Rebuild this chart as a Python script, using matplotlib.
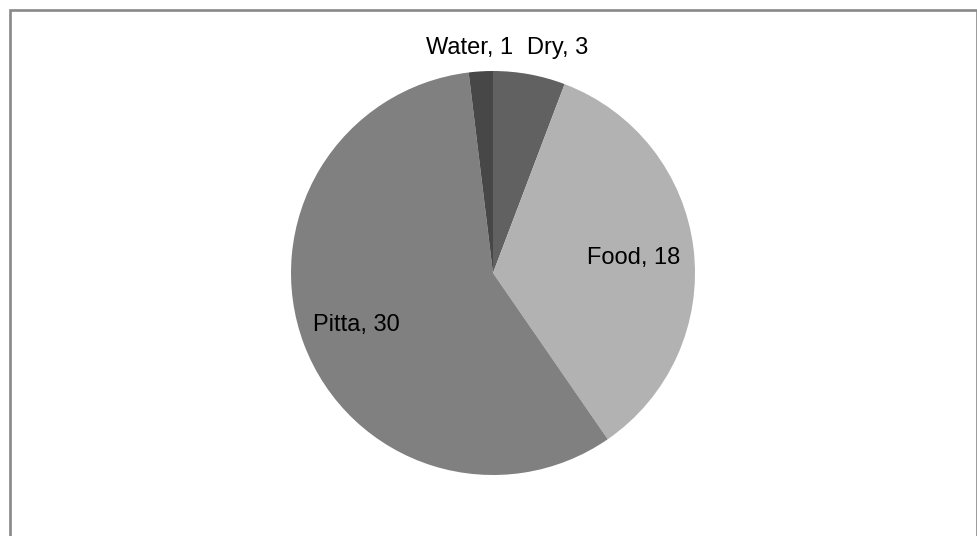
import numpy as np
import matplotlib
matplotlib.use("Agg")
import matplotlib.pyplot as plt
from matplotlib.patches import Rectangle

# Category counts, drawn clockwise from 12 o'clock
categories = ["Dry", "Food", "Pitta", "Water"]
values = [3, 18, 30, 1]
colors = ["#616161", "#b2b2b2", "#808080", "#474747"]

# Label placement: distance from centre (in radii) and angular nudge (degrees)
label_radius = [1.16, 0.70, 0.725, 1.12]
label_nudge = [-5.5, -0.8, 0.0, 2.6]

W, H = 978, 536
fig = plt.figure(figsize=(W / 100, H / 100), dpi=100)
fig.patch.set_facecolor("white")

# Chart-area frame (bottom edge runs past the canvas)
fig.patches.append(Rectangle((9.5 / W, -0.02), (977 - 9.5) / W, 1.02 - 9.5 / H,
                             transform=fig.transFigure, fill=False,
                             edgecolor="#888888", linewidth=1.9))

cx, cy, r = 493, 536 - 273, 202
ax = fig.add_axes([(cx - r) / W, (cy - r) / H, 2 * r / W, 2 * r / H])
wedges, _ = ax.pie(values, colors=colors, startangle=90, counterclock=False,
                   radius=1.0, wedgeprops=dict(linewidth=0))
ax.set_xlim(-1, 1)
ax.set_ylim(-1, 1)
ax.set_aspect("equal")
ax.axis("off")

for w, name, val, rad, nudge in zip(wedges, categories, values, label_radius, label_nudge):
    mid = np.deg2rad((w.theta1 + w.theta2) / 2 + nudge)
    ax.text(rad * np.cos(mid), rad * np.sin(mid), f"{name}, {val}",
            ha="center", va="center", fontsize=17, color="black",
            family="Liberation Sans", clip_on=False)

fig.savefig("out.png", dpi=100, facecolor="white")
